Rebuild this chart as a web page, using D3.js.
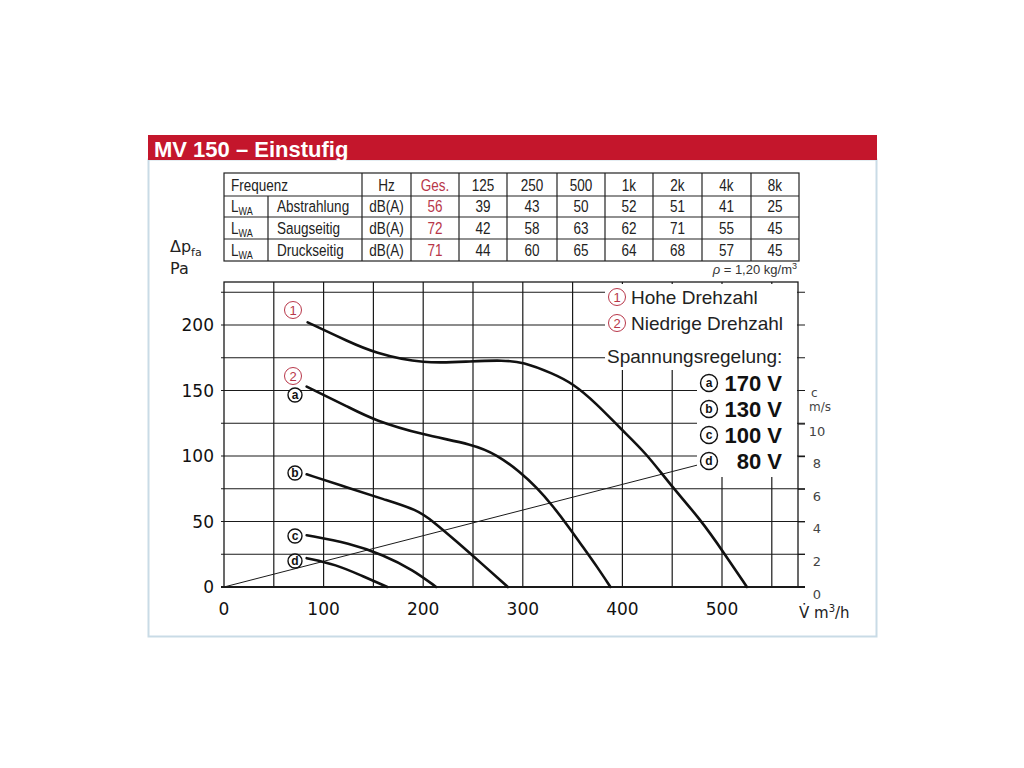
<!DOCTYPE html>
<html>
<head>
<meta charset="utf-8">
<script src="https://cdn.jsdelivr.net/npm/d3@7"></script>
<style>
  body { margin: 0; background: #fff; }
  svg text { font-family: "Liberation Sans", Arial, sans-serif; }
</style>
</head>
<body>
<script>
// chart data
const freqHeader = ["Hz", "Ges.", "125", "250", "500", "1k", "2k", "4k", "8k"];
const rowLabels = ["Abstrahlung", "Saugseitig", "Druckseitig"];
const rowUnit = "dB(A)";
const abstrahlung = [56, 39, 43, 50, 52, 51, 41, 25];
const saugseitig = [72, 42, 58, 63, 62, 71, 55, 45];
const druckseitig = [71, 44, 60, 65, 64, 68, 57, 45];

const xTicks = [0, 100, 200, 300, 400, 500];
const yTicks = [0, 50, 100, 150, 200];
const cTicks = [0, 2, 4, 6, 8, 10];

// fan curves [V m3/h, dp Pa]
const curveHigh = [[84, 202], [126, 187], [150, 179], [200, 170], [250, 172.5], [280, 173], [300, 172], [330, 163], [350, 155.5], [374, 140], [398, 121], [424, 102], [447, 79], [478, 52], [502, 26], [525, 0]];
const curveA = [[83, 153], [126, 137], [150, 127.5], [200, 116], [250, 109], [274, 101], [297, 88], [314, 76], [330, 62], [345, 47], [360, 31], [375, 15], [388, 0]];
const curveB = [[83, 86], [126, 75.5], [160, 67], [194, 59], [210, 50], [234, 34.5], [260, 17], [285, 0]];
const curveC = [[83, 39.5], [126, 33.5], [160, 24.5], [190, 13], [213, 0]];
const curveD = [[83, 22], [113, 17], [137, 9], [164, 0]];
// air velocity line [V m3/h, c m/s]
const velocity = [[0, 0], [575, 9.05]];

const voltages = [["a", "170 V"], ["b", "130 V"], ["c", "100 V"], ["d", "80 V"]];

const red = "#c4162c";
const softRed = "#b8374a";

const svg = d3.select("body").append("svg").attr("width", 1024).attr("height", 768);

// panel frame and title bar
svg.append("rect").attr("x", 148.5).attr("y", 159.5).attr("width", 728).attr("height", 477)
  .attr("fill", "none").attr("stroke", "#c9dbe6").attr("stroke-width", 2);
svg.append("rect").attr("x", 148).attr("y", 135).attr("width", 729).attr("height", 25).attr("fill", red);
svg.append("text").attr("x", 154).attr("y", 157).attr("fill", "#fff")
  .attr("font-size", 22).attr("font-weight", "bold").text("MV 150 – Einstufig");

// ---- table ----
const colEdges = [224, 268, 362, 411, 459, 507, 557, 605, 653, 702, 751, 799];
const rowEdges = [173, 196, 217, 239, 261];
const tbl = svg.append("g").attr("font-size", 16.5).attr("fill", "#222");

tbl.append("rect").attr("x", colEdges[0]).attr("y", rowEdges[0])
  .attr("width", colEdges[11] - colEdges[0]).attr("height", rowEdges[4] - rowEdges[0])
  .attr("fill", "none").attr("stroke", "#222").attr("stroke-width", 1.2);
rowEdges.slice(1, 4).forEach((yy) => {
  tbl.append("line").attr("x1", colEdges[0]).attr("x2", colEdges[11]).attr("y1", yy).attr("y2", yy)
    .attr("stroke", "#222").attr("stroke-width", 1.2);
});
colEdges.slice(1, 11).forEach((xx, i) => {
  tbl.append("line").attr("x1", xx).attr("x2", xx)
    .attr("y1", i === 0 ? rowEdges[1] : rowEdges[0]).attr("y2", rowEdges[4])
    .attr("stroke", "#222").attr("stroke-width", 1.2);
});

const mid = (i) => (colEdges[i] + colEdges[i + 1]) / 2;
const base = (r) => rowEdges[r + 1] - 5;
// condensed look: squeeze text horizontally
function cell(xx, yy, anchor) {
  return tbl.append("text").attr("transform", `translate(${xx},${yy}) scale(0.82,1)`)
    .attr("text-anchor", anchor);
}

cell(231, base(0), "start").text("Frequenz");
freqHeader.forEach((h, i) => {
  cell(mid(i + 2), base(0), "middle").attr("fill", i === 1 ? softRed : "#222").text(h);
});
[abstrahlung, saugseitig, druckseitig].forEach((vals, r) => {
  const t = cell(231, base(r + 1), "start");
  t.append("tspan").text("L");
  t.append("tspan").attr("font-size", 11).attr("dy", 3).text("WA");
  cell(277, base(r + 1), "start").text(rowLabels[r]);
  cell(mid(2), base(r + 1), "middle").text(rowUnit);
  vals.forEach((v, i) => {
    cell(mid(i + 3), base(r + 1), "middle").attr("fill", i === 0 ? softRed : "#222").text(v);
  });
});

// rho note
const rho = svg.append("text").attr("x", 797).attr("y", 274).attr("text-anchor", "end")
  .attr("font-size", 13).attr("fill", "#333");
rho.append("tspan").attr("font-style", "italic").text("ρ");
rho.append("tspan").text(" = 1,20 kg/m");
rho.append("tspan").attr("font-size", 9).attr("dy", -5).text("3");

// ---- chart ----
const plotLeft = 224, plotRight = 798, plotTop = 282, plotBottom = 587;
const x = d3.scaleLinear().domain([0, 500]).range([224, 722]);
const y = d3.scaleLinear().domain([0, 200]).range([587, 325]);
const c = d3.scaleLinear().domain([0, 10]).range([587, 424]);

const grid = svg.append("g").attr("stroke", "#1a1a1a").attr("stroke-width", 1.2);
d3.range(50, 576, 50).forEach((v) => {
  grid.append("line").attr("x1", x(v)).attr("x2", x(v)).attr("y1", plotTop).attr("y2", plotBottom);
});
d3.range(25, 233, 25).forEach((v) => {
  grid.append("line").attr("x1", plotLeft - 3).attr("x2", plotRight + 7).attr("y1", y(v)).attr("y2", y(v));
});
svg.append("rect").attr("x", plotLeft).attr("y", plotTop)
  .attr("width", plotRight - plotLeft).attr("height", plotBottom - plotTop)
  .attr("fill", "none").attr("stroke", "#1a1a1a").attr("stroke-width", 1.3);
svg.append("line").attr("x1", plotLeft - 3).attr("x2", plotRight + 7).attr("y1", plotBottom).attr("y2", plotBottom)
  .attr("stroke", "#1a1a1a").attr("stroke-width", 2.2);

// velocity line
const vLine = d3.line().x((d) => x(d[0])).y((d) => c(d[1]));
svg.append("path").attr("d", vLine(velocity)).attr("fill", "none")
  .attr("stroke", "#1a1a1a").attr("stroke-width", 1);

// fan curves
const fanLine = d3.line().x((d) => x(d[0])).y((d) => y(d[1])).curve(d3.curveBasis);
[curveHigh, curveA, curveB, curveC, curveD].forEach((pts) => {
  svg.append("path").attr("d", fanLine(pts)).attr("fill", "none")
    .attr("stroke", "#111").attr("stroke-width", 2.6).attr("stroke-linecap", "round");
});

// legend boxes (cover grid)
svg.append("rect").attr("x", 605).attr("y", plotTop + 2)
  .attr("width", plotRight - 605 - 1).attr("height", 370 - plotTop - 2).attr("fill", "#fff");
svg.append("rect").attr("x", 697).attr("y", 369)
  .attr("width", plotRight - 697 - 1).attr("height", 108).attr("fill", "#fff");

// circled marks
function circled(g, cx, cy, label, color, r, bold) {
  g.append("circle").attr("cx", cx).attr("cy", cy).attr("r", r)
    .attr("fill", "#fff").attr("stroke", color).attr("stroke-width", bold ? 1.4 : 1);
  g.append("text").attr("x", cx).attr("y", cy).attr("dy", "0.36em").attr("text-anchor", "middle")
    .attr("fill", color).attr("font-size", bold ? 12 : 13).attr("font-weight", bold ? "bold" : "normal")
    .text(label);
}
const marks = svg.append("g");
circled(marks, 293, 310, "1", softRed, 8.5, false);
circled(marks, 293, 376, "2", softRed, 8.5, false);
circled(marks, 295, 395, "a", "#111", 7, true);
circled(marks, 295, 473, "b", "#111", 7, true);
circled(marks, 295, 536, "c", "#111", 7, true);
circled(marks, 295, 561, "d", "#111", 7, true);

// legend text
const leg = svg.append("g").attr("fill", "#222");
circled(leg, 617, 297, "1", softRed, 8.5, false);
leg.append("text").attr("x", 631).attr("y", 304).attr("font-size", 19).text("Hohe Drehzahl");
circled(leg, 617, 323, "2", softRed, 8.5, false);
leg.append("text").attr("x", 631).attr("y", 330).attr("font-size", 19).text("Niedrige Drehzahl");
leg.append("text").attr("x", 607).attr("y", 363).attr("font-size", 19).text("Spannungsregelung:");
voltages.forEach((d, i) => {
  const cy = 383 + i * 26;
  circled(leg, 709, cy, d[0], "#111", 8.5, true);
  leg.append("text").attr("x", 782).attr("y", cy + 8).attr("text-anchor", "end")
    .attr("font-size", 22).attr("font-weight", "bold").attr("fill", "#111").text(d[1]);
});

// axes labels
const axisFont = "'DejaVu Sans', Verdana, sans-serif";
const yAx = svg.append("g").attr("font-size", 17).attr("fill", "#111");
yTicks.forEach((v) => {
  yAx.append("text").attr("x", 214).attr("y", y(v)).attr("dy", "0.36em").attr("text-anchor", "end")
    .style("font-family", axisFont).text(v);
});
xTicks.forEach((v) => {
  yAx.append("text").attr("x", x(v)).attr("y", 615).attr("text-anchor", "middle")
    .style("font-family", axisFont).text(v);
});

const cAx = svg.append("g").attr("fill", "#444");
cTicks.forEach((v) => {
  cAx.append("line").attr("x1", plotRight).attr("x2", plotRight + 7).attr("y1", c(v)).attr("y2", c(v))
    .attr("stroke", "#1a1a1a").attr("stroke-width", 1.2);
  cAx.append("text").attr("x", 817).attr("y", c(v) + 7).attr("dy", "0.36em").attr("text-anchor", "middle")
    .attr("font-size", 13).style("font-family", axisFont).text(v);
});
cAx.append("text").attr("x", 811).attr("y", 397).attr("font-size", 12).style("font-family", axisFont).text("c");
cAx.append("text").attr("x", 809).attr("y", 411).attr("font-size", 12).style("font-family", axisFont).text("m/s");

const unitX = svg.append("text").attr("x", 799).attr("y", 618).attr("font-size", 15)
  .style("font-family", axisFont).attr("fill", "#222");
unitX.append("tspan").text("V\u0307 m");
unitX.append("tspan").attr("font-size", 10).attr("dy", -6).text("3");
unitX.append("tspan").attr("dy", 6).text("/h");

const dp = svg.append("text").attr("x", 170).attr("y", 252).attr("font-size", 16)
  .style("font-family", axisFont).attr("fill", "#222");
dp.append("tspan").text("Δp");
dp.append("tspan").attr("font-size", 11).attr("dy", 4).text("fa");
svg.append("text").attr("x", 170).attr("y", 274).attr("font-size", 16)
  .style("font-family", axisFont).attr("fill", "#222").text("Pa");
</script>
</body>
</html>
